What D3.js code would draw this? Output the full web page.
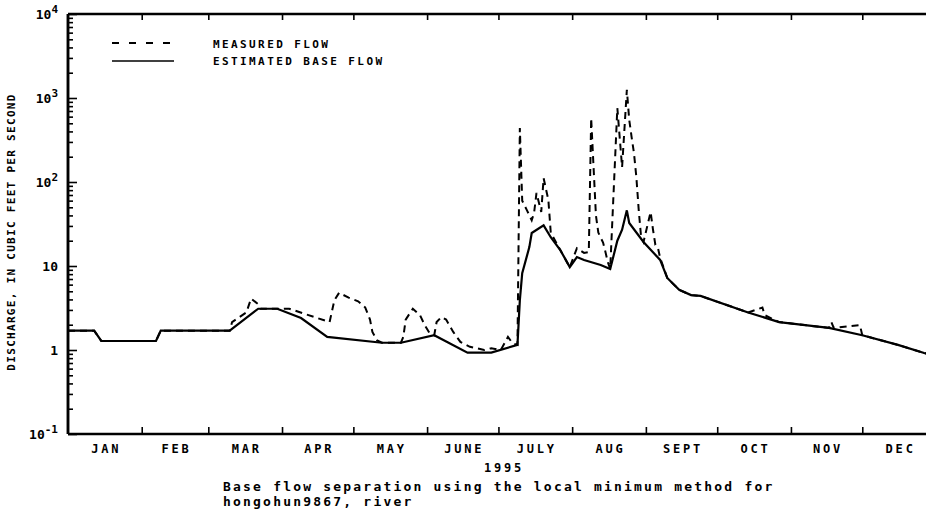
<!DOCTYPE html>
<html>
<head>
<meta charset="utf-8">
<script src="https://cdn.jsdelivr.net/npm/d3@7"></script>
<style>
  body { margin: 0; background: #fff; }
  svg { display: block; }
  text { font-family: "DejaVu Sans Mono", monospace; fill: #000; }
</style>
</head>
<body>
<div id="chart"></div>
<script>
// day of year (0 = Jan 1, 1995) and flow in cfs
var baseDay = [0, 11, 14, 37, 39, 68, 80, 88, 98, 109, 132, 140, 154, 168, 178, 189, 190, 191, 194, 195,
  200, 203, 207, 211, 214, 217, 224, 228, 231, 233, 235, 236, 242, 249, 252, 257, 262, 266, 286, 299,
  320, 334, 349, 360, 364];
var baseCfs = [1.7, 1.7, 1.28, 1.28, 1.7, 1.7, 3.1, 3.1, 2.4, 1.43, 1.22, 1.22, 1.5, 0.93, 0.93, 1.15, 3.9, 8.2, 16.8, 24.7,
  30.5, 22, 15.5, 9.7, 12.8, 11.8, 10.3, 9.2, 20, 27, 46, 32.5, 19.3, 11.8, 7.2, 5.2, 4.5, 4.4, 2.8, 2.15,
  1.83, 1.5, 1.15, 0.92, 0.88];

var measDay = [0, 11, 14, 37, 39, 68, 69, 75, 77, 80, 81, 88, 93, 110, 112, 114, 118, 122, 125, 127,
  128, 130, 132, 140, 141, 142, 145, 148, 150, 152, 154, 155, 157, 159, 162, 165, 169, 172, 175, 178,
  182, 185, 187, 189, 190, 191, 193, 195, 196, 197, 199, 200, 202, 203, 207, 211, 214, 217, 218, 219,
  220, 221, 222, 223, 225, 226, 227, 228, 231, 233, 235, 236, 237, 238, 239, 240, 241, 242, 245, 246,
  247, 248, 249, 252, 257, 262, 266, 286, 292, 293, 299, 320, 321, 322, 333, 334, 349, 360, 364];
var measCfs = [1.7, 1.7, 1.28, 1.28, 1.7, 1.7, 2.15, 2.8, 4.1, 3.5, 3.1, 3.1, 3.1, 2.15, 3.9, 4.8, 4.2, 3.8, 3.2, 2.3,
  1.64, 1.3, 1.22, 1.22, 1.43, 2.3, 3.1, 2.6, 1.98, 1.6, 1.5, 2.15, 2.47, 2.3, 1.64, 1.25, 1.09, 1.05, 1.0, 1.05,
  1.0, 1.43, 1.2, 1.15, 440, 60, 46, 35, 43, 74, 44, 111, 61, 25, 15.5, 9.7, 16.3, 14.3, 14.5, 14.7,
  576, 150, 40, 25, 19, 14.7, 11.1, 9.2, 760, 150, 1250, 550, 343, 220, 114, 46, 22, 19.3, 44, 27,
  17.8, 16.8, 12.5, 7.2, 5.2, 4.5, 4.4, 2.8, 3.2, 2.6, 2.15, 1.83, 2.15, 1.83, 1.98, 1.5, 1.15, 0.92, 0.88];

var monthLabels = ["JAN", "FEB", "MAR", "APR", "MAY", "JUNE", "JULY", "AUG", "SEPT", "OCT", "NOV", "DEC"];
var yMajor = [0.1, 1, 10, 100, 1000, 10000];
var yLabels = [["10", "-1"], ["1", ""], ["10", ""], ["10", "2"], ["10", "3"], ["10", "4"]];
var legendNames = ["MEASURED FLOW", "ESTIMATED BASE FLOW"];

var svgWidth = 926;
var svgHeight = 512;

var margin = { top: 14, left: 68, bottom: 78, right: -10 };
var width = svgWidth - margin.left - margin.right;
var height = svgHeight - margin.top - margin.bottom;

var svg = d3.select("#chart")
  .append("svg")
  .attr("width", svgWidth)
  .attr("height", svgHeight);

var chartGroup = svg.append("g")
  .attr("transform", `translate(${margin.left}, ${margin.top})`);

function toDate(d) { return new Date(1995, 0, 1 + d); }

var xScale = d3.scaleTime()
  .domain([new Date(1995, 0, 1), new Date(1996, 0, 1)])
  .range([0, width]);

var yScale = d3.scaleLog()
  .domain([0.1, 10000])
  .range([height, 0]);

// minor log ticks
var yMinor = [];
yMajor.slice(0, -1).forEach(function (m) {
  for (var k = 2; k <= 9; k++) yMinor.push(m * k);
});

chartGroup.append("g")
  .attr("class", "y_minor")
  .call(d3.axisLeft(yScale).tickValues(yMinor).tickSize(-5).tickFormat(""));

chartGroup.append("g")
  .attr("class", "y_major")
  .call(d3.axisLeft(yScale).tickValues(yMajor).tickSize(-9).tickFormat(""));

var monthTicks = d3.timeMonth.range(new Date(1995, 1, 1), new Date(1996, 0, 1));

chartGroup.append("g")
  .attr("class", "x_axis")
  .attr("transform", `translate(0, ${height})`)
  .call(d3.axisBottom(xScale).tickValues(monthTicks).tickSize(-7).tickFormat(""));

chartGroup.append("g")
  .attr("class", "x_top")
  .call(d3.axisTop(xScale).tickValues(monthTicks).tickSize(-6).tickFormat(""));

chartGroup.selectAll(".domain")
  .attr("stroke-width", 2.5)
  .attr("d", function () {
    var p = d3.select(this.parentNode).attr("class");
    if (p === "x_axis" || p === "x_top") return `M0,0H${width}`;
    return `M0,0V${height}`;
  });
chartGroup.selectAll(".tick line").attr("stroke-width", 1.6);

// month labels centered in each month
var monthStarts = d3.timeMonth.range(new Date(1995, 0, 1), new Date(1996, 0, 1));
chartGroup.selectAll(".mlabel")
  .data(monthStarts)
  .enter()
  .append("text")
  .attr("class", "mlabel")
  .attr("x", d => (xScale(d) + xScale(d3.timeMonth.offset(d, 1))) / 2 + 1.5)
  .attr("y", height + 19)
  .attr("text-anchor", "middle")
  .attr("font-size", "12px")
  .attr("font-weight", "bold")
  .attr("letter-spacing", "2.8px")
  .text((d, i) => monthLabels[i]);

// y tick labels
var yl = chartGroup.selectAll(".ylabel")
  .data(yMajor)
  .enter()
  .append("text")
  .attr("class", "ylabel")
  .attr("x", -10)
  .attr("y", d => yScale(d) + 5)
  .attr("text-anchor", "end")
  .attr("font-size", "13px")
  .attr("font-weight", "bold");
yl.each(function (d, i) {
  var t = d3.select(this);
  t.append("tspan").text(yLabels[i][0]);
  if (yLabels[i][1]) {
    t.append("tspan").attr("dy", -6).attr("font-size", "11px").text(yLabels[i][1]);
  }
});

// y axis title
svg.append("text")
  .attr("transform", `translate(15, ${margin.top + 218}) rotate(-90)`)
  .attr("text-anchor", "middle")
  .attr("font-size", "11px")
  .attr("font-weight", "bold")
  .attr("letter-spacing", "1.3px")
  .text("DISCHARGE, IN CUBIC FEET PER SECOND");

// data lines
chartGroup.append("clipPath").attr("id", "clip")
  .append("rect").attr("width", width).attr("height", height);

var line = d3.line()
  .x(d => xScale(toDate(d[0])))
  .y(d => yScale(d[1]));

var measData = d3.zip(measDay, measCfs);
var baseData = d3.zip(baseDay, baseCfs);

chartGroup.append("path")
  .datum(measData)
  .attr("clip-path", "url(#clip)")
  .attr("d", line)
  .attr("fill", "none")
  .attr("stroke", "black")
  .attr("stroke-width", 2)
  .attr("stroke-dasharray", "7,5");

chartGroup.append("path")
  .datum(baseData)
  .attr("clip-path", "url(#clip)")
  .attr("d", line)
  .attr("fill", "none")
  .attr("stroke", "black")
  .attr("stroke-width", 2.2);

// legend
var legend = svg.append("g").attr("transform", "translate(112, 43)");
legend.append("line")
  .attr("x1", 0).attr("x2", 62).attr("y1", 0).attr("y2", 0)
  .attr("stroke", "black").attr("stroke-width", 2).attr("stroke-dasharray", "7,10");
legend.append("line")
  .attr("x1", 0).attr("x2", 62).attr("y1", 18).attr("y2", 18)
  .attr("stroke", "black").attr("stroke-width", 1.6);
legend.selectAll(".leg")
  .data(legendNames)
  .enter()
  .append("text")
  .attr("x", 101)
  .attr("y", (d, i) => i * 17 + 5)
  .attr("font-size", "11px")
  .attr("font-weight", "bold")
  .attr("letter-spacing", "2.4px")
  .text(d => d);

// year and caption
svg.append("text")
  .attr("x", 504)
  .attr("y", 472)
  .attr("text-anchor", "middle")
  .attr("font-size", "12px")
  .attr("font-weight", "bold")
  .attr("letter-spacing", "2.8px")
  .text("1995");

var caption = svg.append("text")
  .attr("x", 223)
  .attr("y", 491)
  .attr("font-size", "13px")
  .attr("font-weight", "bold")
  .attr("letter-spacing", "2.2px");
caption.append("tspan").text("Base flow separation using the local minimum method for");
caption.append("tspan").attr("x", 223).attr("dy", 15).text("hongohun9867, river");
</script>
</body>
</html>
